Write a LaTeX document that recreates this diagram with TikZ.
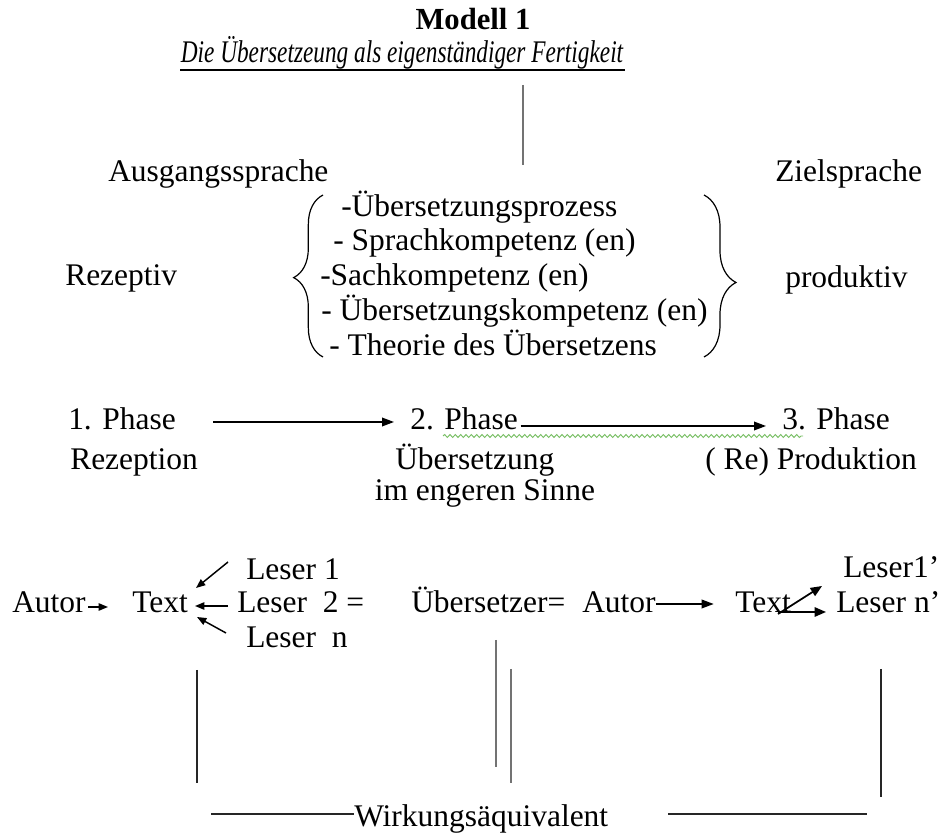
\documentclass[tikz,border=0pt]{standalone}
\usepackage{fontspec}
\setmainfont{Liberation Serif}
\usetikzlibrary{arrows.meta,decorations.pathreplacing,decorations.pathmorphing,calc}
\begin{document}
\begin{tikzpicture}[x=0.75pt,y=-0.75pt,
  txt/.style={inner sep=0pt,anchor=base west,font=\fontsize{23.6}{28}\selectfont},
  ctxt/.style={inner sep=0pt,anchor=base,font=\fontsize{23.6}{28}\selectfont},
  arr/.style={-{Triangle[length=9pt,width=6.5pt]},line width=1.1pt},
  sarr/.style={-{Triangle[length=7pt,width=5.5pt]},line width=1.1pt},
  barr/.style={-{Triangle[length=8.5pt,width=7pt]},line width=1.3pt},
  grayline/.style={draw=black!55,line width=0.8pt},
  darkline/.style={draw=black!85,line width=1.4pt},
  bracestyle/.style={decorate,line width=0.9pt}]
\useasboundingbox (0,0) rectangle (947,837);
% title
\node[ctxt,font=\fontsize{23}{27}\selectfont\bfseries] (modell) at (473,30) {Modell 1};
\node[ctxt] (title) at (402,63) {\itshape\scalebox{0.74}[1]{Die Übersetzeung als eigenständiger Fertigkeit}};
\coordinate (ulA) at (180,70);
\coordinate (ulB) at (625,70);
\draw[line width=0.9pt] (ulA) -- (ulB);
\coordinate (vt1) at (523,85);
\coordinate (vt2) at (523,165);
\draw[grayline] (vt1) -- (vt2);
% languages
\node[txt] (as) at (108,182) {Ausgangssprache};
\node[txt] (zs) at (775,182) {Zielsprache};
\node[txt] (rez) at (65,286) {Rezeptiv};
\node[txt] (prod) at (785,288) {produktiv};
% list
\node[txt] (l1) at (341,217) {-Übersetzungsprozess};
\node[txt] (l2) at (333,251) {- Sprachkompetenz (en)};
\node[txt] (l3) at (320,286) {-Sachkompetenz (en)};
\node[txt] (l4) at (321,321) {- Übersetzungskompetenz (en)};
\node[txt] (l5) at (329,356) {- Theorie des Übersetzens};
\coordinate (lbA) at (323,357);
\coordinate (lbB) at (323,195);
\draw[bracestyle,decoration={brace,amplitude=22pt,aspect=0.49}] (lbA) -- (lbB);
\coordinate (rbA) at (704,195);
\coordinate (rbB) at (704,357);
\draw[bracestyle,decoration={brace,amplitude=24pt,aspect=0.54}] (rbA) -- (rbB);
% phases
\node[txt] (p1) at (68,430) {1. Phase};
\node[txt] (p2) at (410,430) {2. Phase};
\node[txt] (p3) at (782,430) {3. Phase};
\draw[arr,shorten <=28pt,shorten >=12pt] (p1.east |- 0,422) -- (p2.west |- 0,422);
\draw[arr,shorten <=2pt,shorten >=12pt] (p2.east |- 0,426) -- (p3.west |- 0,426);
\coordinate (wvA) at (443,436);
\coordinate (wvB) at (803,436);
\draw[draw={rgb,255:red,120;green,190;blue,100},line width=0.7pt,decorate,decoration={snake,amplitude=1.1pt,segment length=4pt}] (wvA) -- (wvB);
\node[txt] (rzp) at (70,470) {Rezeption};
\node[txt] (ueb) at (395,470) {Übersetzung};
\node[txt] (repr) at (705,470) {( Re) Produktion};
\node[ctxt] (ims) at (485,501) {im engeren Sinne};
% bottom row
\node[txt] (autor1) at (12,613) {Autor};
\node[txt] (text1) at (132,613) {Text};
\node[txt] (les1) at (246,580) {Leser 1};
\node[txt] (les2) at (237,613) {Leser~ 2 =};
\node[txt] (lesn) at (246,648) {Leser~ n};
\node[txt] (uebs) at (411,613) {Übersetzer=};
\node[txt] (autor2) at (582,613) {Autor};
\node[txt] (text2) at (735,613) {Text};
\node[txt] (les1b) at (843,578) {Leser1’};
\node[txt] (lesnb) at (836,613) {Leser n’};
\coordinate (aa1) at (88,607);
\coordinate (aa2) at (108,607);
\draw[sarr] (aa1) -- (aa2);
\coordinate (k1a) at (228,562);
\coordinate (k1b) at (196,588);
\draw[sarr] (k1a) -- (k1b);
\coordinate (k2a) at (228,606);
\coordinate (k2b) at (195,606);
\draw[sarr] (k2a) -- (k2b);
\coordinate (k3a) at (226,633);
\coordinate (k3b) at (197,617);
\draw[sarr] (k3a) -- (k3b);
\draw[arr,shorten >=16pt] (autor2.east |- 0,604) -- (text2.west |- 0,604);
\coordinate (m1a) at (778,614);
\coordinate (m1b) at (822,586);
\draw[barr] (m1a) -- (m1b);
\coordinate (m2a) at (778,612);
\coordinate (m2b) at (826,612);
\draw[barr] (m2a) -- (m2b);
% bottom lines
\coordinate (v1a) at (197,670); \coordinate (v1b) at (197,783);
\draw[darkline] (v1a) -- (v1b);
\coordinate (v2a) at (496,640); \coordinate (v2b) at (496,767);
\draw[grayline] (v2a) -- (v2b);
\coordinate (v3a) at (511,669); \coordinate (v3b) at (511,783);
\draw[grayline] (v3a) -- (v3b);
\coordinate (v4a) at (881,669); \coordinate (v4b) at (881,797);
\draw[darkline] (v4a) -- (v4b);
\node[txt] (wirk) at (354,826) {Wirkungsäquivalent};
\coordinate (h1a) at (211,814);
\draw[darkline] (h1a) -- (wirk.west |- h1a);
\coordinate (h2a) at (668,814); \coordinate (h2b) at (867,814);
\draw[darkline] (h2a) -- (h2b);
\end{tikzpicture}
\end{document}
